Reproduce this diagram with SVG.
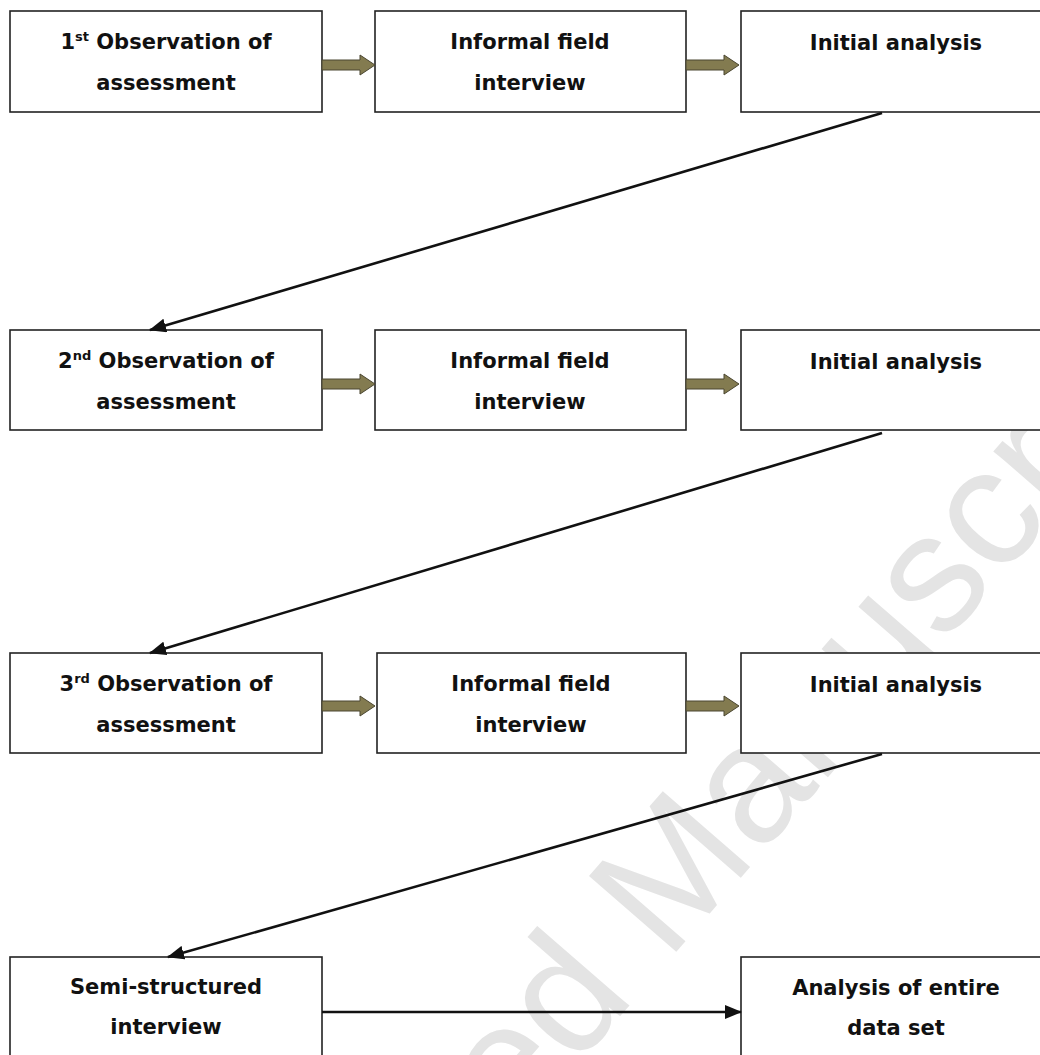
<svg xmlns="http://www.w3.org/2000/svg" width="1040" height="1055" viewBox="0 0 1040 1055">
<style>
.box{fill:#fff;stroke:#222;stroke-width:1.6}
.t{font-family:"DejaVu Sans","Liberation Sans",sans-serif;font-weight:bold;font-size:21px;fill:#111;text-anchor:middle}
.sup{font-size:13px}
.wm{font-family:"Liberation Sans",Arial,sans-serif;font-size:168px;fill:#e4e4e4}
.blk{fill:#837b50;stroke:#4a4630;stroke-width:1}
.ln{stroke:#111;stroke-width:2.6;fill:none}
</style>
<defs>
<marker id="ah" markerWidth="18" markerHeight="14" refX="16" refY="7" orient="auto" markerUnits="userSpaceOnUse">
<path d="M0,0 L17,7 L0,14 Z" fill="#111"/>
</marker>
<path id="blkarrow" class="blk" d="M0,-5 L38,-5 L38,-10 L53,0 L38,10 L38,5 L0,5 Z"/>
</defs>
<rect width="1040" height="1055" fill="#fff"/>
<text class="wm" transform="translate(177,1526) rotate(-49)" x="0" y="0">Accepted Manuscript</text>

<g id="n1"><rect class="box" x="10" y="11" width="312" height="101"/>
<text class="t" x="166" y="49">1<tspan class="sup" dy="-8">st</tspan><tspan dy="8"> Observation of</tspan></text>
<text class="t" x="166" y="90">assessment</text></g>
<g id="n2"><rect class="box" x="375" y="11" width="311" height="101"/>
<text class="t" x="530" y="49">Informal field</text>
<text class="t" x="530" y="90">interview</text></g>
<g id="n3"><rect class="box" x="741" y="11" width="312" height="101"/>
<text class="t" x="896" y="50">Initial analysis</text></g>

<g id="n4"><rect class="box" x="10" y="330" width="312" height="100"/>
<text class="t" x="166" y="368">2<tspan class="sup" dy="-8">nd</tspan><tspan dy="8"> Observation of</tspan></text>
<text class="t" x="166" y="409">assessment</text></g>
<g id="n5"><rect class="box" x="375" y="330" width="311" height="100"/>
<text class="t" x="530" y="368">Informal field</text>
<text class="t" x="530" y="409">interview</text></g>
<g id="n6"><rect class="box" x="741" y="330" width="312" height="100"/>
<text class="t" x="896" y="369">Initial analysis</text></g>

<g id="n7"><rect class="box" x="10" y="653" width="312" height="100"/>
<text class="t" x="166" y="691">3<tspan class="sup" dy="-8">rd</tspan><tspan dy="8"> Observation of</tspan></text>
<text class="t" x="166" y="732">assessment</text></g>
<g id="n8"><rect class="box" x="377" y="653" width="309" height="100"/>
<text class="t" x="531" y="691">Informal field</text>
<text class="t" x="531" y="732">interview</text></g>
<g id="n9"><rect class="box" x="741" y="653" width="312" height="100"/>
<text class="t" x="896" y="692">Initial analysis</text></g>

<g id="n10"><rect class="box" x="10" y="957" width="312" height="110"/>
<text class="t" x="166" y="994">Semi-structured</text>
<text class="t" x="166" y="1034">interview</text></g>
<g id="n11"><rect class="box" x="741" y="957" width="312" height="110"/>
<text class="t" x="896" y="995">Analysis of entire</text>
<text class="t" x="896" y="1035">data set</text></g>

<g id="connectors">
<use href="#blkarrow" x="322" y="65"/>
<use href="#blkarrow" x="686" y="65"/>
<use href="#blkarrow" x="322" y="384"/>
<use href="#blkarrow" x="686" y="384"/>
<use href="#blkarrow" x="322" y="706"/>
<use href="#blkarrow" x="686" y="706"/>
<line class="ln" x1="882" y1="113" x2="150" y2="330" marker-end="url(#ah)"/>
<line class="ln" x1="882" y1="433" x2="150" y2="653" marker-end="url(#ah)"/>
<line class="ln" x1="882" y1="754" x2="168" y2="957" marker-end="url(#ah)"/>
<line class="ln" x1="322" y1="1012" x2="741" y2="1012" stroke-width="3" marker-end="url(#ah)"/>
</g>
</svg>
